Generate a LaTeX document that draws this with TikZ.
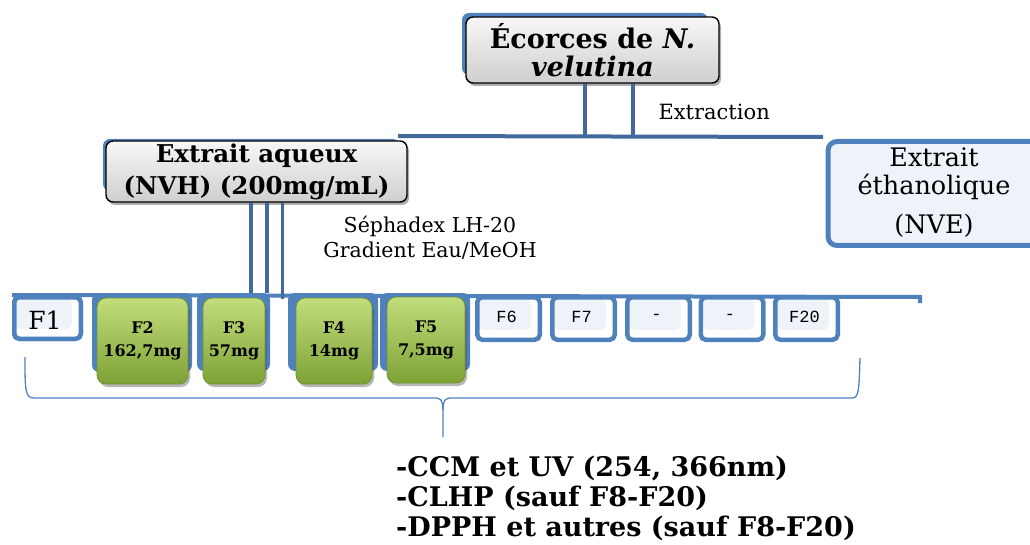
\documentclass[tikz,border=0pt]{standalone}
\usepackage{fontspec}
\setmainfont{DejaVu Serif}
\newfontfamily\monofnt{Liberation Mono}
\usetikzlibrary{shadows,calc}
\definecolor{frameblue}{HTML}{4F81BD}
\definecolor{connblue}{HTML}{41699C}
\definecolor{lightfill}{HTML}{EEF3FA}
\definecolor{greentop}{HTML}{C2DD7C}
\definecolor{greenbot}{HTML}{7EA236}
\definecolor{greenline}{HTML}{6E9230}
\begin{document}
\begin{tikzpicture}[x=1pt,y=-1pt,
  conn/.style={draw=connblue,line width=4pt},
  rowline/.style={draw=frameblue,line width=4pt},
  bgframe/.style={fill=frameblue,rounded corners=7pt,inner sep=0pt},
  headbox/.style={rounded corners=7pt,draw=black,line width=1.4pt,
    top color=gray!6,bottom color=gray!38,align=center,inner sep=0pt,
    drop shadow={shadow xshift=2pt,shadow yshift=-3pt,opacity=0.45,fill=black!70}},
  greenbox/.style={rounded corners=9pt,draw=greenline,line width=0.8pt,
    top color=greentop,bottom color=greenbot,align=center,inner sep=0pt,
    minimum height=86pt,
    font=\fontsize{16}{23}\selectfont\bfseries,
    drop shadow={shadow xshift=2pt,shadow yshift=-3pt,opacity=0.4,fill=black!70}},
  fracbox/.style={draw=frameblue,line width=4.5pt,rounded corners=5pt,fill=white,
    inner sep=0pt,minimum height=42.5pt,minimum width=62.5pt,
    path picture={\fill[lightfill] ([xshift=2pt,yshift=-2pt]path picture bounding box.north west)
      rectangle ([xshift=-9pt,yshift=10pt]path picture bounding box.south east);}},
  smalltxt/.style={font=\monofnt\fontsize{17}{20}\selectfont}
  ]
\useasboundingbox (0,0) rectangle (1030,545);

% ---- top box
\node[bgframe,minimum width=246pt,minimum height=62pt] (ecorcesbg) at (585,44) {};
\node[headbox,minimum width=253pt,minimum height=66pt,
  font=\fontsize{27}{28}\selectfont\bfseries] (ecorces) at (592.5,50)
  {Écorces de \textit{N.}\\\textit{velutina}};

% ---- aqueous box
\node[bgframe,minimum width=297pt,minimum height=52pt] (aqbg) at (251.5,165) {};
\node[headbox,minimum width=301pt,minimum height=61pt,
  font=\fontsize{24.5}{32}\selectfont\bfseries] (aqueux) at (256.5,171.5)
  {Extrait aqueux\\(NVH) (200mg/mL)};

% ---- ethanolic box
\node[draw=frameblue,line width=5pt,rounded corners=9pt,fill=lightfill,
  minimum width=212pt,minimum height=104pt,inner sep=0pt] (ethanol) at (934,193.5) {};
\node[font=\fontsize{25.5}{28}\selectfont,align=center,anchor=north] (ethtxt) at (934,144)
  {Extrait\\éthanolique\\[11pt](NVE)};

% ---- extraction connectors
\coordinate (hl) at (398,136);
\coordinate (hr) at (823,137);
\draw[conn] (hl) -- (hr);
\draw[conn] ([xshift=-7.5pt]ecorces.south) -- ([xshift=-7.5pt]ecorces.south |- hl);
\draw[conn] ([xshift=40.5pt]ecorces.south) -- ([xshift=40.5pt]ecorces.south |- hl);
\node[font=\fontsize{21}{24}\selectfont,anchor=west] (extraction) at (655,112) {Extraction};

\node[font=\fontsize{20.5}{25}\selectfont,align=center] (sephadex) at (430,237.5)
  {Séphadex LH-20\\Gradient Eau/MeOH};

% ---- fraction row
\coordinate (rowend) at (920,297);
\node[fracbox,minimum width=66.5pt,minimum height=41.5pt] (f1) at (47.5,318) {};
\draw[rowline] (f1.north west) -- (rowend) -- ++(0,6);
\node[fracbox,minimum width=66.5pt,minimum height=41.5pt] (f1) at (47.5,318) {};
\node[font=\fontsize{25}{28}\selectfont] at (45,320) {F1};

\node[bgframe,minimum width=100pt,minimum height=79pt] (f2bg) at (142,332.5) {};
\node[bgframe,minimum width=73pt,minimum height=78pt] (f3bg) at (233.5,332) {};
\node[bgframe,minimum width=90pt,minimum height=78pt] (f4bg) at (333,332) {};
\node[bgframe,minimum width=90pt,minimum height=78pt] (f5bg) at (425,332) {};

\draw[conn] ([xshift=-5.5pt]aqueux.south) -- ([xshift=-5.5pt]aqueux.south |- f2bg.north);
\draw[conn] ([xshift=10.5pt]aqueux.south) -- ([xshift=10.5pt]aqueux.south |- f2bg.north);
\draw[draw=connblue,line width=3pt] ([xshift=25.5pt]aqueux.south) -- ([xshift=25.5pt,yshift=-6pt]aqueux.south |- f2bg.north);

\node[greenbox,minimum width=91pt] (f2) at (142.5,341) {F2\\162,7mg};
\node[greenbox,minimum width=62pt] (f3) at (234,341) {F3\\57mg};
\node[greenbox,minimum width=76pt] (f4) at (334,341) {F4\\14mg};
\node[greenbox,minimum width=78pt] (f5) at (426,340) {F5\\7,5mg};

\node[fracbox] (f6) at (508.5,318.5) {};
\node[smalltxt] at ([xshift=-2pt,yshift=2pt]f6.center) {F6};
\node[fracbox] (f7) at (583.5,318.5) {};
\node[smalltxt] at ([xshift=-2pt,yshift=2pt]f7.center) {F7};
\node[fracbox] (fa) at (658.5,318.5) {};
\node[smalltxt] at ([xshift=-2pt,yshift=2pt]fa.center) {-};
\node[fracbox] (fb) at (732,318.5) {};
\node[smalltxt] at ([xshift=-2pt,yshift=2pt]fb.center) {-};
\node[fracbox] (f20) at (806.5,318.5) {};
\node[smalltxt] at ([xshift=-2pt,yshift=2pt]f20.center) {F20};

% ---- brace
\coordinate (bl) at (25,357);
\coordinate (br) at (860,358);
\coordinate (btip) at (443,437);
\draw[draw=frameblue,line width=1.3pt]
  (bl) .. controls (25,390) and (25,398) .. (34,398) -- (434,398)
  .. controls (441,398) and (443,400) .. (443,410) -- (btip);
\draw[draw=frameblue,line width=1.3pt]
  (br) .. controls (859,390) and (859,398) .. (852,398) -- (452,398)
  .. controls (445,398) and (443,400) .. (443,410);

% ---- bottom text
\node[font=\fontsize{27}{30}\selectfont\bfseries,align=left,anchor=north west,inner sep=0pt]
  (tests) at (396,456)
  {-CCM et UV (254, 366nm)\\-CLHP (sauf F8-F20)\\-DPPH et autres (sauf F8-F20)};
\end{tikzpicture}
\end{document}
